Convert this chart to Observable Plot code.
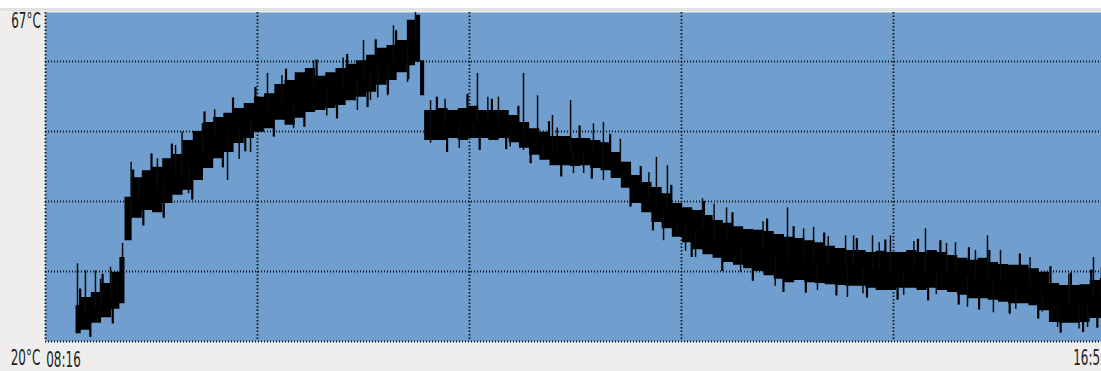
<!DOCTYPE html>
<html><head><meta charset="utf-8">
<script src="https://cdn.jsdelivr.net/npm/d3@7"></script>
<script src="https://cdn.jsdelivr.net/npm/@observablehq/plot@0.6"></script>
<style>
html,body{margin:0;padding:0;overflow:hidden;background:#efeeed;width:1101px;height:371px;}
#chart svg{display:block;max-width:none !important;background:linear-gradient(#ffffff 0 8px,#e2e2e2 8px 11px,#efeeed 11px);}
</style></head><body><div id="chart"></div><script>
// minutes after 08:16
const minutes = [15,20,25,30,35,38,40,45,50,55,60,65,70,75,80,85,90,95,100,105,110,115,120,125,130,135,140,145,150,155,160,165,170,175,180,183,185,187,190,195,200,205,210,215,220,225,230,235,240,245,250,255,260,265,270,275,280,285,290,295,300,305,310,315,320,325,330,335,340,345,350,355,360,365,370,375,380,385,390,395,400,405,410,415,420,425,430,435,440,445,450,455,460,465,470,475,480,485,490,495,500,505,510,515,520];
const tempHigh = [25.1,26.3,27.0,28.3,29.9,32.0,40.6,43.4,44.4,44.9,46.1,46.7,48.7,50.0,51.3,52.0,52.6,53.3,54.0,54.9,55.4,56.7,57.3,58.4,59.0,57.9,58.4,59.0,59.6,60.1,60.9,61.9,62.3,63.0,65.9,66.6,60.1,53.0,53.0,53.3,53.0,53.3,53.6,53.0,53.0,53.0,52.3,51.3,50.4,49.9,49.3,49.3,49.0,49.0,48.7,48.4,47.0,45.6,43.7,42.7,42.0,41.1,39.7,39.1,38.7,38.0,37.3,36.9,36.4,36.0,35.9,35.7,35.3,34.9,34.7,34.4,34.1,33.6,33.3,33.0,33.0,32.7,32.9,32.7,32.7,33.0,32.7,33.0,32.7,32.3,31.9,31.6,31.9,31.3,31.0,30.9,30.9,30.4,29.9,28.3,28.0,28.0,28.1,28.7,29.0];
const tempLow = [21.1,21.6,22.6,23.4,24.6,25.4,34.4,37.6,38.7,38.4,39.7,40.9,41.6,43.0,44.7,46.1,47.0,48.3,49.0,49.9,50.4,51.6,50.9,51.9,52.7,53.0,53.3,53.7,54.4,54.9,55.6,56.6,57.3,58.4,59.4,59.9,55.1,48.7,48.7,48.7,49.0,48.7,49.0,49.0,48.7,49.0,48.4,47.6,46.6,45.9,45.1,45.1,45.0,45.1,44.7,44.4,43.3,41.9,39.7,38.4,37.0,36.1,34.9,34.1,33.1,32.4,31.9,31.3,30.9,30.4,30.0,29.4,28.9,28.4,28.7,28.4,28.3,28.1,28.0,27.9,27.9,27.6,27.3,27.3,27.6,27.6,27.3,27.6,27.3,27.0,26.6,26.1,26.1,25.9,25.6,25.4,25.4,25.1,24.4,22.7,22.6,22.6,22.7,23.3,23.3];
// single-reading spikes (up and down)
const spikeMinutes = [15.7,19.6,24.5,31.9,37.8,45.6,54.9,63.8,77,108.9,131.5,156,170.7,181.5,188.9,211.9,222.2,234.5,241.4,248.7,257.6,268.8,273.7,299.7,305.1,322.3,334.1,364,371.9,376.8,392.5,396.4,405.7,414.5,431.7,446.4,456.2,462.1,468.5,514.1,
  89.3,100.6,57.9,70.2,121.7,153,159.4,177.6,167.8,188.9,210,234.5,244,259,273.7,303.2,318.9,310,393.4,452.3,465,496.5,511.2,378.7,
  27,42,67,83,95,116,138,146,163,196,203,217,228,251,264,282,288,296,314,328,341,352,358,384,401,409,421,426,437,442,476,483,489,502,507,518];
const spikeTemps = [31.1,30.1,30.1,30.6,34.0,43.0,46.1,48.0,51.1,58.3,60.1,63.0,65.1,67.0,54.4,58.3,54.9,58.3,55.1,52.3,54.4,51.1,51.3,46.3,45.1,40.4,39.1,39.1,36.1,36.3,35.1,35.1,35.1,35.1,36.1,34.1,33.0,35.1,33.0,32.0,
  43.0,47.0,38.0,41.1,50.4,53.0,54.4,57.0,55.1,48.3,49.1,47.3,46.3,44.0,43.0,34.4,32.0,35.1,26.3,24.9,24.1,22.0,22.0,27.3,
  28.9,45.6,49.9,53.1,46.0,58.0,52.2,60.5,54.8,54.6,47.6,54.9,47.8,50.5,44.0,48.9,40.5,44.1,32.9,39.6,29.9,37.1,27.9,35.0,26.8,34.1,26.6,34.3,26.7,34.0,24.6,32.0,24.2,29.6,21.8,30.5];
// small edge noise readings
const noiseMinutes = [17,22,28,33,43,48,52,58,62,72,78,87,92,98,103,112,118,127,133,143,148,158,162,168,172,178,192,197,207,213,219,226,232,238,247,253,262,268,277,287,292,298,307,317,323,332,337,347,354,362,367,373,382,388,398,403,412,418,428,433,439,448,453,458,463,473,478,487,493,498,503,509,513,516];
const noiseTemps = [27.5,20.6,29.6,22.5,44.5,36.5,46.8,37.6,48.2,40.2,52.8,44.8,54.8,47.1,56.3,49.2,58.9,50.6,60.2,51.8,61.0,53.4,63.1,55.3,64.4,57.4,54.9,47.0,55.3,47.3,54.6,47.4,53.6,45.4,51.4,43.5,50.8,43.2,49.6,39.2,45.0,35.8,42.3,32.0,40.0,30.0,38.4,28.6,37.5,27.0,36.4,26.9,35.5,26.5,34.7,26.2,34.5,25.9,34.6,25.8,34.4,25.2,33.4,24.5,33.0,23.9,32.5,23.2,30.7,21.2,29.8,21.3,30.2,21.9];
const yGrid = [20,30,40,50,60];
const xGrid = [0,104,208,312,416,520];
const yLabelText = ["67°C","20°C"];
const yLabelValue = [67,20];
const xLabelText = ["08:16","16:56"];
const xLabelValue = [0,520];

const band = minutes.map((m,i)=>({m, hi: tempHigh[i], lo: tempLow[i]}));
const toRule = (ms, ts) => ms.map((m,i)=>{
  const k = d3.leastIndex(minutes, v=>Math.abs(v-m));
  return {m, t: ts[i], base: (tempHigh[k]+tempLow[k])/2};
});
const spikes = toRule(spikeMinutes, spikeTemps);
const noise = toRule(noiseMinutes, noiseTemps);
const labels = [
  {x: xLabelValue[0], y: yLabelValue[0], text: yLabelText[0], dx: -19.5, dy: 8.5},
  {x: xLabelValue[0], y: yLabelValue[1], text: yLabelText[1], dx: -20, dy: 16.5},
  {x: xLabelValue[0], y: yLabelValue[1], text: xLabelText[0], dx: 18, dy: 18.5},
  {x: xLabelValue[1], y: yLabelValue[1], text: xLabelText[1], dx: -15, dy: 17}
];

const chart = Plot.plot({
  width: 1110, height: 371,
  marginLeft: 45, marginRight: 5, marginTop: 12, marginBottom: 30,
  style: {maxWidth: "none"},
  x: {domain: [0,520], axis: null},
  y: {domain: [20,67], axis: null},
  marks: [
    Plot.frame({fill: "#6f9ecf", stroke: null}),
    Plot.ruleY(yGrid, {stroke: "#111", strokeWidth: 1.8, strokeDasharray: "1,2"}),
    Plot.ruleX(xGrid, {stroke: "#111", strokeWidth: 1.8, strokeDasharray: "1.5,2"}),
    Plot.areaY(band, {x: "m", y1: "lo", y2: "hi", curve: "step", fill: "#000"}),
    Plot.ruleX(noise, {x: "m", y1: "base", y2: "t", stroke: "#000", strokeWidth: 2.2}),
    Plot.ruleX(spikes, {x: "m", y1: "base", y2: "t", stroke: "#0a0a0a", strokeWidth: 1.5}),
    ...labels.map(l => Plot.text([l], {x: "x", y: "y", text: "text", dx: l.dx, dy: l.dy,
      textAnchor: "middle", lineAnchor: "middle", fontFamily: "DejaVu Sans", fontSize: 15, fill: "#222"}))
  ]
});
chart.querySelectorAll("text").forEach(t => {
  const tr = t.getAttribute("transform") || "";
  t.setAttribute("transform", `${tr} scale(0.8,1.4)`);
});
document.getElementById("chart").append(chart);
</script></body></html>
